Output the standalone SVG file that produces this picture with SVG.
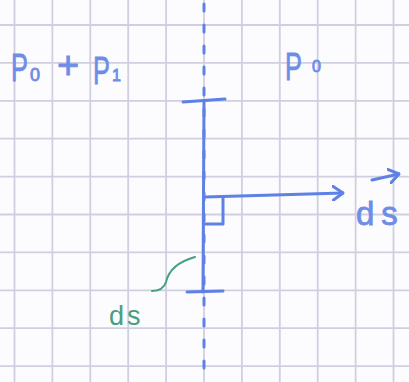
<svg xmlns="http://www.w3.org/2000/svg" width="409" height="382" viewBox="0 0 409 382">
  <defs>
    <style>
      .grid { stroke: #cfcfe0; stroke-width: 1.8; fill: none; }
      .ink { stroke: #5f80e4; stroke-width: 3; fill: none; stroke-linecap: round; stroke-linejoin: round; }
      .t { font-family: "Liberation Sans", Arial, sans-serif; fill: #6d8de6; stroke: #6d8de6; stroke-width: 0.8; }
      .g { font-family: "Liberation Sans", Arial, sans-serif; fill: #45a07e; }
    </style>
    <marker id="head" viewBox="0 0 12 16" refX="11" refY="8" markerWidth="12" markerHeight="16" markerUnits="userSpaceOnUse" orient="auto">
      <path d="M1,1 L11,8 L1,15" fill="none" stroke="#5f80e4" stroke-width="3" stroke-linecap="round" stroke-linejoin="round"/>
    </marker>
  </defs>
  <rect width="409" height="382" fill="#fcfcfe"/>
  <g id="grid">
    <path class="grid" d="M14.5,0V382 M52.4,0V382 M90.3,0V382 M128.2,0V382 M166.1,0V382 M204,0V382 M241.9,0V382 M279.8,0V382 M317.7,0V382 M355.6,0V382 M393.5,0V382
      M0,25H409 M0,62.9H409 M0,100.8H409 M0,138.7H409 M0,176.6H409 M0,214.5H409 M0,252.4H409 M0,290.3H409 M0,328.2H409 M0,366.1H409"/>
  </g>
  <g id="axis">
    <path class="ink" d="M204,4 V382" stroke-dasharray="7 14"/>
  </g>
  <g id="surface">
    <path class="ink" d="M204,101 L203,292"/>
    <path class="ink" d="M183,102 L225,99"/>
    <path class="ink" d="M187,292 L223,291"/>
    <path class="ink" d="M205,224 L223,224 L223,197"/>
  </g>
  <g id="connectors">
    <path class="ink" d="M205,197 L343,193" marker-end="url(#head)"/>
    <path class="ink" d="M372,180 L399,174" marker-end="url(#head)"/>
  </g>
  <g id="label-left">
    <text class="t" font-size="39" transform="translate(11,81) scale(0.65,1)">P</text>
    <text class="t" x="30" y="81" font-size="18">0</text>
    <text class="t" x="57" y="78" font-size="38">+</text>
    <text class="t" font-size="39" transform="translate(93,84) scale(0.65,1)">P</text>
    <text class="t" x="112" y="81" font-size="16">1</text>
  </g>
  <g id="label-right">
    <text class="t" font-size="39" transform="translate(285,80) scale(0.65,1)">P</text>
    <text class="t" x="312" y="72" font-size="16">0</text>
  </g>
  <g id="label-ds-vector">
    <text class="t" x="356" y="225" font-size="33" letter-spacing="7">ds</text>
  </g>
  <g id="label-ds">
    <text class="g" x="109" y="325" font-size="27" letter-spacing="3">ds</text>
    <path d="M152,291 Q163,291 166,282 Q170,264 195,257" fill="none" stroke="#45a07e" stroke-width="2" stroke-linecap="round"/>
  </g>
</svg>
